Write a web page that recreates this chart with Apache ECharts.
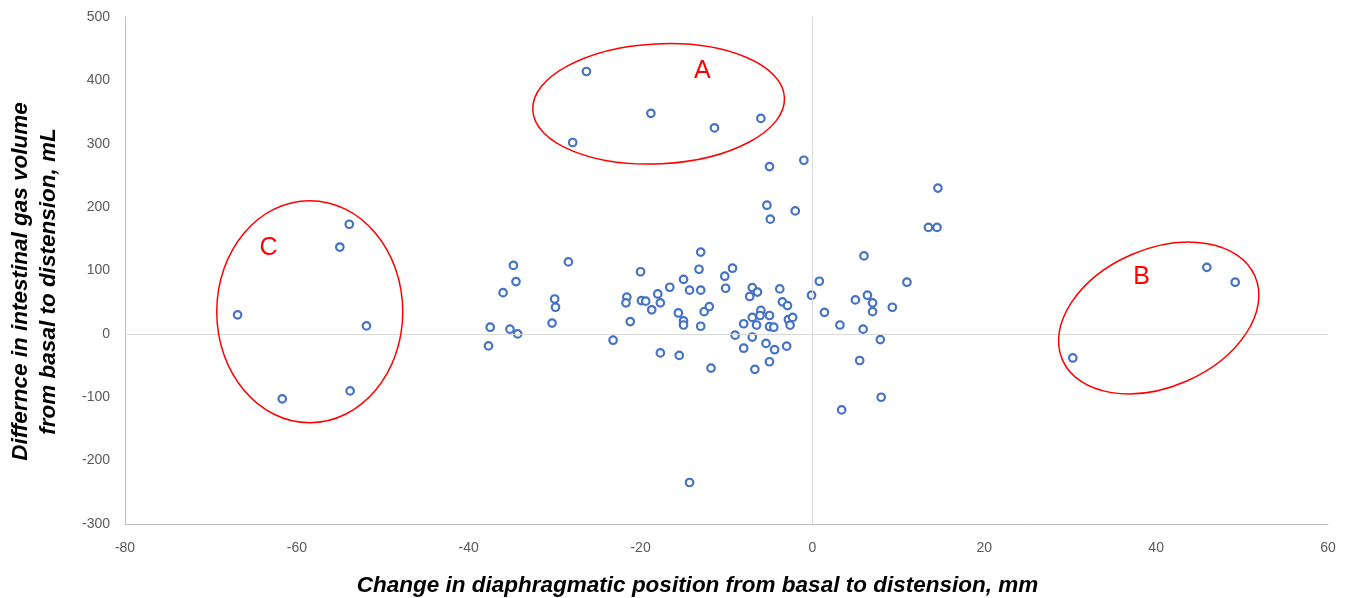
<!DOCTYPE html>
<html>
<head>
<meta charset="utf-8">
<script src="https://cdn.jsdelivr.net/npm/echarts@6/dist/echarts.min.js"></script>
<style>
  html, body { margin: 0; padding: 0; background: #fff; }
  #chart { width: 1350px; height: 598px; }
</style>
</head>
<body>
<div id="chart"></div>
<script>
  // change in diaphragmatic position (mm) for each subject
  var diaphragmShift = [
    -26.3, -18.8, -11.4, -6.0, -27.9,
    -5.0, -1.0, -5.3, -2.0, -4.9,
    -53.9, -55.0, -66.9, -51.9, -53.8, -61.7,
    45.9, 49.2, 30.3,
    14.6, 13.5, 14.5, 6.0, 11.0, 6.4, 7.0, 7.0, 9.3, 5.9, 7.9, 5.5, 8.0, 3.4, 0.8, -0.1, 1.4, 3.2, 5.0,
    -34.8, -34.5, -36.0, -37.5, -35.2, -34.3, -37.7, -28.4, -30.0, -29.9, -30.3, -23.2, -21.6, -21.7, -21.2, -20.0,
    -19.9, -19.4, -18.7, -18.0, -17.7, -16.6, -17.7, -15.5, -15.6, -15.0,
    -15.0, -15.0, -14.3, -13.0, -13.2, -13.0, -13.0, -12.6, -12.0, -11.8,
    -10.2, -9.3, -10.1, -9.0, -8.0, -8.0, -7.3, -7.0, -6.4, -7.0,
    -6.5, -7.0, -6.7, -6.0, -6.1, -5.4, -5.0, -5.0, -4.5, -4.4,
    -5.0, -3.8, -3.5, -2.9, -2.8, -2.3, -2.6, -3.0, -14.3
  ];
  // difference in intestinal gas volume (mL), same order
  var gasVolumeChange = [
    414, 348, 325, 340, 302,
    264, 274, 203, 194, 181,
    173, 137, 30, 12.6, -90, -102.5,
    105, 81.5, -38,
    230, 168, 168, 123, 81.5, 61, 49, 35, 42, 7.4, -9, -42, -100, -120, 83, 61, 34, 14, 53.6,
    108, 82.5, 65, 10.5, 7.4, 0, -19, 113.6, 55, 42, 17, -10, 58, 49, 19.4, 98,
    52.5, 51.6, 38, 63, 49, 73.6, -30, -34, 33, 20.5,
    14, 86, 69, 129, 102, 69, 12, 35, 43, -54,
    91, 103.6, 72, -2, -22.6, 16, 59, 73, 66, 26,
    14, -5, -56, 37, 29, -15, 29, 11.5, 10.5, -25,
    -44, 71, 50.5, 44.6, 22.6, 26, 13.7, -19.4, -234.5
  ];
  var xTicks = { min: -80, max: 60, interval: 20 };
  var yTicks = { min: -300, max: 500, interval: 100 };

  // circled groups: centre in data units, label position in data units
  var groupNames = ['A', 'B', 'C'];
  var groupCentres = [[-17.9, 363], [40.3, 25], [-58.5, 35]];
  var groupLabels = [[-12.8, 415], [38.3, 90], [-63.3, 136]];

  var points = diaphragmShift.map(function (x, i) {
    return [x, gasVolumeChange[i]];
  });

  var chart = echarts.init(document.getElementById('chart'));
  var labelFont = 'Liberation Sans';
  chart.setOption({
    animation: false,
    grid: { left: 125, right: 22, top: 17, bottom: 74, outerBoundsMode: 'none', containLabel: false },
    xAxis: {
      type: 'value',
      min: xTicks.min,
      max: xTicks.max,
      interval: xTicks.interval,
      name: 'Change in diaphragmatic position from basal to distension, mm',
      nameLocation: 'middle',
      nameGap: 50,
      nameTextStyle: {
        fontFamily: labelFont, fontSize: 22.5, fontWeight: 'bold',
        fontStyle: 'italic', color: '#000', padding: [0, 58, 0, 0]
      },
      axisLine: { show: true, onZero: false, lineStyle: { color: '#bfbfbf', width: 1 } },
      axisTick: { show: false },
      splitLine: { show: false },
      axisLabel: { fontFamily: labelFont, fontSize: 14, color: '#595959', margin: 17 }
    },
    yAxis: {
      type: 'value',
      min: yTicks.min,
      max: yTicks.max,
      interval: yTicks.interval,
      name: 'Differnce in intestinal gas volume\nfrom basal to distension, mL',
      nameLocation: 'middle',
      nameRotate: 90,
      nameGap: 62,
      nameTextStyle: {
        fontFamily: labelFont, fontSize: 22.5, fontWeight: 'bold',
        fontStyle: 'italic', color: '#000', lineHeight: 28, padding: [0, 22, 0, 0]
      },
      axisLine: { show: true, onZero: false, lineStyle: { color: '#bfbfbf', width: 1 } },
      axisTick: { show: false },
      splitLine: { show: false },
      axisLabel: { fontFamily: labelFont, fontSize: 14, color: '#595959', margin: 15 }
    },
    series: [{
      type: 'scatter',
      data: points,
      symbol: 'circle',
      symbolSize: 7.5,
      itemStyle: { color: '#ffffff', borderColor: '#4472c4', borderWidth: 2.2, opacity: 1 },
      markLine: {
        silent: true,
        symbol: 'none',
        label: { show: false },
        lineStyle: { color: '#d9d9d9', type: 'solid', width: 1 },
        data: [{ xAxis: 0 }, { yAxis: 0 }]
      },
      z: 3
    }]
  });

  // ellipse sizes in pixels
  var ellipseShapes = [
    { rx: 126, ry: 60, rot: 0.05 },
    { rx: 105, ry: 69, rot: 0.41 },
    { rx: 93, ry: 111, rot: 0 }
  ];
  var elements = [];
  groupNames.forEach(function (name, i) {
    var c = chart.convertToPixel({ gridIndex: 0 }, groupCentres[i]);
    var l = chart.convertToPixel({ gridIndex: 0 }, groupLabels[i]);
    elements.push({
      type: 'ellipse',
      x: c[0], y: c[1],
      rotation: ellipseShapes[i].rot,
      shape: { cx: 0, cy: 0, rx: ellipseShapes[i].rx, ry: ellipseShapes[i].ry },
      style: { fill: null, stroke: '#ff0000', lineWidth: 1.5 },
      z: 10
    });
    elements.push({
      type: 'text',
      x: l[0], y: l[1],
      style: {
        text: name, fill: '#ff0000', font: '25px "Liberation Sans"',
        textAlign: 'center', textVerticalAlign: 'middle'
      },
      z: 10
    });
  });
  chart.setOption({ graphic: elements });
</script>
</body>
</html>
